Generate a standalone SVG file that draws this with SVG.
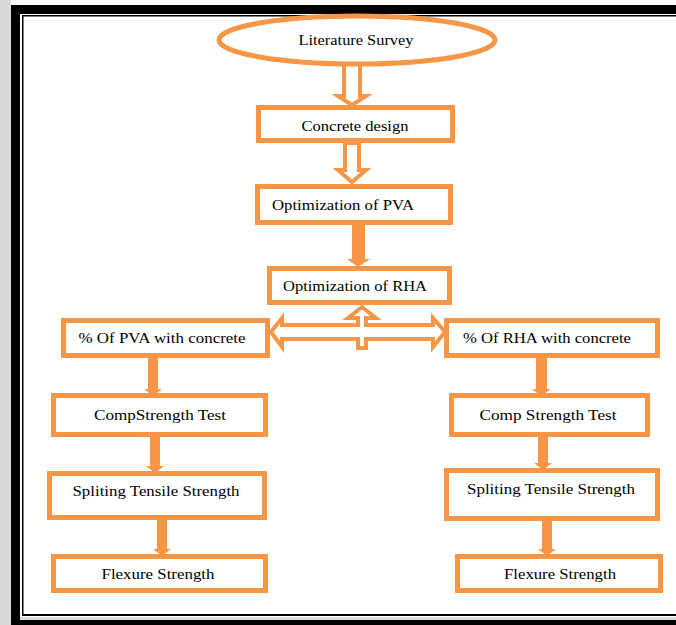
<svg xmlns="http://www.w3.org/2000/svg" width="676" height="625" viewBox="0 0 676 625">
<style>
.box{fill:#fff;stroke:#F79646;stroke-width:5}
.hollow{fill:#fff;stroke:#F79646;stroke-width:4;stroke-linejoin:miter}
.solid{fill:#F79646;stroke:none}
text{font-family:"Liberation Serif","Times New Roman",serif;font-size:15px;fill:#000;text-anchor:middle}
</style>
<rect x="0" y="0" width="676" height="625" fill="#fff"/>
<rect x="0" y="0" width="11" height="625" fill="#d9d9d9"/>
<g id="frame">
<rect x="11" y="5" width="665" height="9" fill="#000"/>
<rect x="11" y="5" width="9" height="620" fill="#000"/>
<rect x="22" y="15" width="654" height="1.5" fill="#000"/>
<rect x="22" y="15" width="1.5" height="601" fill="#000"/>
<rect x="22" y="614" width="654" height="2" fill="#000"/>
<rect x="20" y="617" width="656" height="3" fill="#d9d9d9"/>
<rect x="11" y="620" width="665" height="5" fill="#000"/>
</g>
<g id="connectors">
<polygon class="hollow" points="344,64 344,96 338,96 352,105 366,96 360,96 360,64"/>
<polygon class="hollow" points="345,143 345,170 338,170 352,182 366,170 359,170 359,143"/>
<polygon class="solid" points="352,225 365,225 365,259 370,259 358,267 347,259 352,259"/>
<polygon class="hollow" points="362,307 376,318 366,318 366,325 433,325 433,318 445,332 433,347 433,339 366,339 366,348 358,348 358,339 282,339 282,347 271,332 282,318 282,325 358,325 358,318 348,318"/>
<polygon class="solid" points="148,357 158,357 158,389 162,389 153,396 144,389 148,389"/>
<polygon class="solid" points="150,436 160,436 160,466 164,466 155,473 146,466 150,466"/>
<polygon class="solid" points="157,519 167,519 167,549 171,549 162,556 153,549 157,549"/>
<polygon class="solid" points="536,357 547,357 547,389 551,389 541,396 532,389 536,389"/>
<polygon class="solid" points="538,436 548,436 548,463 552,463 543,470 534,463 538,463"/>
<polygon class="solid" points="542,520 552,520 552,549 556,549 547,556 538,549 542,549"/>
</g>
<g id="literature-survey">
<ellipse cx="357" cy="40" rx="138" ry="24" fill="#fff" stroke="#F79646" stroke-width="5"/>
<text x="356" y="45" textLength="115" lengthAdjust="spacingAndGlyphs">Literature Survey</text>
</g>
<g id="concrete-design">
<rect class="box" x="258.5" y="107.5" width="194" height="33"/>
<text x="355" y="131" textLength="107" lengthAdjust="spacingAndGlyphs">Concrete design</text>
</g>
<g id="optimization-pva">
<rect class="box" x="257.5" y="186.5" width="193" height="36"/>
<text x="343" y="210" textLength="142" lengthAdjust="spacingAndGlyphs">Optimization of PVA</text>
</g>
<g id="optimization-rha">
<rect class="box" x="269.5" y="268.5" width="180" height="34"/>
<text x="355" y="291" textLength="144" lengthAdjust="spacingAndGlyphs">Optimization of RHA</text>
</g>
<g id="pva-with-concrete">
<rect class="box" x="63.5" y="320.5" width="204" height="35"/>
<text x="162" y="343" textLength="167" lengthAdjust="spacingAndGlyphs">% Of PVA with concrete</text>
</g>
<g id="comp-strength-left">
<rect class="box" x="53.5" y="395.5" width="212" height="39"/>
<text x="160" y="420" textLength="132" lengthAdjust="spacingAndGlyphs">CompStrength Test</text>
</g>
<g id="spliting-left">
<rect class="box" x="49.5" y="473.5" width="215" height="44"/>
<text x="156" y="496" textLength="167" lengthAdjust="spacingAndGlyphs">Spliting Tensile Strength</text>
</g>
<g id="flexure-left">
<rect class="box" x="53.5" y="556.5" width="212" height="34"/>
<text x="158" y="579" textLength="113" lengthAdjust="spacingAndGlyphs">Flexure Strength</text>
</g>
<g id="rha-with-concrete">
<rect class="box" x="446.5" y="320.5" width="211" height="35"/>
<text x="547" y="343" textLength="168" lengthAdjust="spacingAndGlyphs">% Of RHA with concrete</text>
</g>
<g id="comp-strength-right">
<rect class="box" x="451.5" y="395.5" width="196" height="39"/>
<text x="548" y="420" textLength="137" lengthAdjust="spacingAndGlyphs">Comp Strength Test</text>
</g>
<g id="spliting-right">
<rect class="box" x="446.5" y="470.5" width="211" height="48"/>
<text x="551" y="494" textLength="168" lengthAdjust="spacingAndGlyphs">Spliting Tensile Strength</text>
</g>
<g id="flexure-right">
<rect class="box" x="457.5" y="556.5" width="203" height="34"/>
<text x="560" y="579" textLength="112" lengthAdjust="spacingAndGlyphs">Flexure Strength</text>
</g>
</svg>
